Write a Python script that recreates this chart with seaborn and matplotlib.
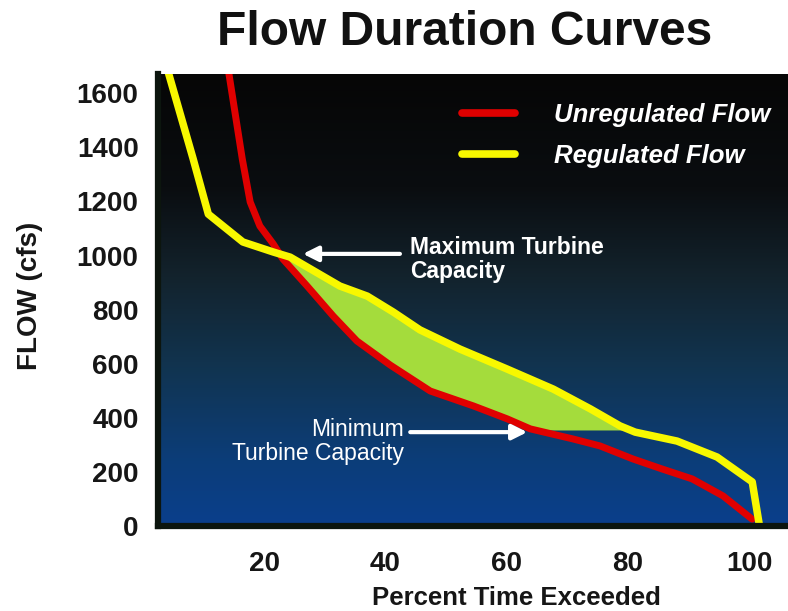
import numpy as np
import matplotlib
matplotlib.use("Agg")
import matplotlib.pyplot as plt
from matplotlib.colors import LinearSegmentedColormap
import seaborn as sns
import pandas as pd

# ---- data ----
unreg_x = [14.0, 16.4, 17.7, 19.3, 21.5, 23.1, 27.1, 31.4, 35.3, 40.8, 47.4, 54.5,
           60.1, 63.9, 70.9, 75.4, 80.8, 85.6, 90.6, 95.7, 100.5]
unreg_y = [1700, 1357, 1198, 1109, 1043, 987, 887, 776, 684, 595, 499, 444,
           396, 359, 322, 296, 248, 211, 174, 111, 25]
reg_x = [3.9, 8.3, 10.8, 16.5, 21.5, 24.3, 32.5, 37.0, 41.3, 45.7, 52.3, 60.1,
         67.7, 73.8, 78.7, 81.2, 88.1, 94.7, 100.5, 101.7]
reg_y = [1700, 1357, 1153, 1050, 1013, 994, 887, 850, 791, 725, 654, 580,
         506, 433, 370, 347, 314, 255, 163, 0]
max_capacity = 1000
min_capacity = 355
x_ticks = [20, 40, 60, 80, 100]
y_ticks = [0, 200, 400, 600, 800, 1000, 1200, 1400, 1600]

sns.set_style("white")
plt.rcParams['font.family'] = ['Liberation Sans', 'DejaVu Sans']

fig = plt.figure(figsize=(7.88, 6.11), dpi=100)
ax = fig.add_axes([158/788, 1 - 526/611, 1 - 158/788, (526 - 74)/611])
xmin, xmax = 2.5, 106.4
ymin, ymax = 0, 1671
ax.set_xlim(xmin, xmax)
ax.set_ylim(ymin, ymax)

# gradient background
cmap = LinearSegmentedColormap.from_list("bg", [
    (0.0, "#060606"), (0.25, "#0a0d10"), (0.45, "#13232d"),
    (0.65, "#113450"), (0.85, "#0c3d78"), (1.0, "#0a3f8c")])
grad = np.linspace(0, 1, 256).reshape(-1, 1)
ax.imshow(grad, cmap=cmap, aspect='auto', extent=[xmin, xmax, ymin, ymax],
          origin='upper', zorder=0)

# green fill between curves, bounded by turbine capacities
xs = np.linspace(20, 85, 600)
top = np.minimum(np.interp(xs, reg_x, reg_y), max_capacity)
bot = np.maximum(np.interp(xs, unreg_x, unreg_y), min_capacity)
ax.fill_between(xs, bot, top, where=top > bot, interpolate=True,
                color="#a4dc3c", lw=0, zorder=1)

df_u = pd.DataFrame({"x": unreg_x, "y": unreg_y})
df_r = pd.DataFrame({"x": reg_x, "y": reg_y})
sns.lineplot(data=df_u, x="x", y="y", sort=False, color="#e00000", lw=5,
             ax=ax, zorder=3, label="Unregulated Flow")
sns.lineplot(data=df_r, x="x", y="y", sort=False, color="#f8f800", lw=5.4,
             ax=ax, zorder=4, label="Regulated Flow")

leg = ax.legend(loc="upper left", bbox_to_anchor=(0.483, 0.935), frameon=False,
                handlelength=2.05, handletextpad=1.5, labelspacing=0.65,
                borderpad=0, borderaxespad=0,
                prop=dict(family=['Liberation Sans'], weight='bold',
                          style='italic', size=18.5))
for t in leg.get_texts():
    t.set_color("white")
for h in leg.legend_handles:
    h.set_linewidth(5.5)

# annotations
ax.annotate("", xy=(26.4, 1006), xytext=(42.4, 1006),
            arrowprops=dict(arrowstyle='-|>,head_width=0.45,head_length=0.9',
                            color='white', lw=3, shrinkA=0, shrinkB=0), zorder=5)
ax.text(44.1, 985, "Maximum Turbine\nCapacity", color='white', fontsize=16.5,
        fontweight='bold', ha='left', va='center', linespacing=1.05, zorder=5)
ax.annotate("", xy=(63.4, 347), xytext=(44.1, 347),
            arrowprops=dict(arrowstyle='-|>,head_width=0.45,head_length=0.9',
                            color='white', lw=3, shrinkA=0, shrinkB=0), zorder=5)
ax.text(43.1, 313, "Minimum\nTurbine Capacity", color='white', fontsize=16.5,
        ha='right', va='center', multialignment='right', linespacing=1.05, zorder=5)

# axes styling
for s in ["top", "right"]:
    ax.spines[s].set_visible(False)
for s in ["left", "bottom"]:
    ax.spines[s].set_linewidth(4.5)
    ax.spines[s].set_color("#0c150e")
    ax.spines[s].set_zorder(6)
ax.set_xticks(x_ticks)
ax.set_yticks(y_ticks)
ax.tick_params(axis='x', direction='inout', length=14, width=0.8, color='#777777',
               pad=11, labelsize=20, labelcolor='#161616')
ax.tick_params(axis='y', direction='out', length=6, width=0.8, color='#777777',
               pad=8, labelsize=20, labelcolor='#161616')
for lab in ax.get_xticklabels() + ax.get_yticklabels():
    lab.set_fontweight('bold')

ax.set_xlabel("Percent Time Exceeded", fontsize=18.5, fontweight='bold',
              color='#161616')
ax.xaxis.set_label_coords((516 - 158) / 630, (526 - 610) / 452)
ax.xaxis.label.set_va('bottom')
ax.set_ylabel("FLOW (cfs)", fontsize=20, fontweight='bold', color='#161616')
ax.yaxis.set_label_coords((43 - 158) / 630, (526 - 296) / 452)

fig.text(0.59, 0.946, "Flow Duration Curves", fontsize=34.5, fontweight='bold',
         color='#111111', ha='center', va='center')

fig.savefig("out.png", dpi=100, facecolor='white')
